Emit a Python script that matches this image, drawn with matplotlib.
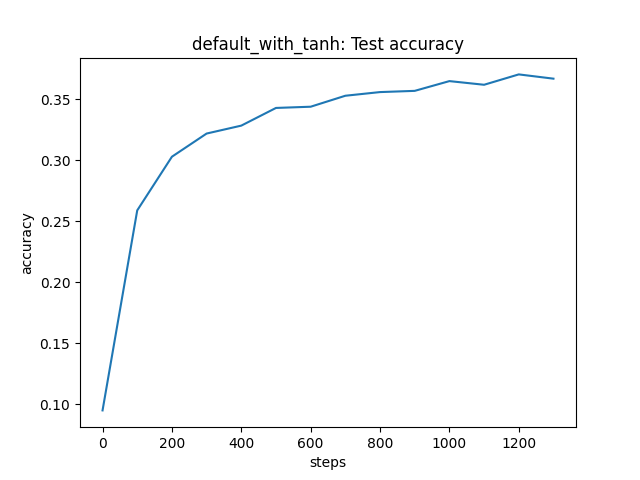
import matplotlib
matplotlib.use("Agg")
import matplotlib.pyplot as plt

steps = [0, 100, 200, 300, 400, 500, 600, 700, 800, 900, 1000, 1100, 1200, 1300]
accuracy = [0.095, 0.259, 0.303, 0.322, 0.3285, 0.343, 0.344, 0.353, 0.356, 0.357,
            0.365, 0.362, 0.3705, 0.367]

fig, ax = plt.subplots(figsize=(6.4, 4.8), dpi=100)
ax.plot(steps, accuracy)
ax.set_title("default_with_tanh: Test accuracy")
ax.set_xlabel("steps")
ax.set_ylabel("accuracy")
fig.savefig("out.png")
